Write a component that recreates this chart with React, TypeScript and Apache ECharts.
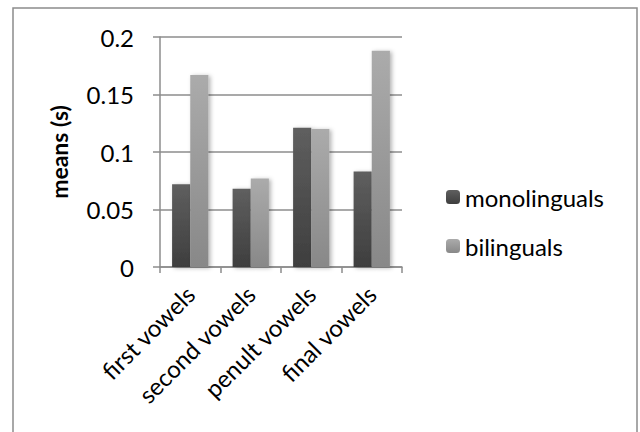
import React, { useEffect, useRef } from "react";
import * as echarts from "echarts";

const categories = ["first vowels", "second vowels", "penult vowels", "final vowels"];
const monolinguals = [0.072, 0.068, 0.121, 0.083];
const bilinguals = [0.167, 0.077, 0.120, 0.188];
const yTicks = [0, 0.05, 0.1, 0.15, 0.2];

const FONT = "Lato";

export default function App() {
  const ref = useRef<HTMLDivElement>(null);
  useEffect(() => {
    document.body.style.margin = "0";
    const chart = echarts.init(ref.current!, null, { renderer: "svg" });
    const grad = (top: string, bottom: string) =>
      new echarts.graphic.LinearGradient(0, 0, 0, 1, [
        { offset: 0, color: top },
        { offset: 1, color: bottom },
      ]);
    chart.setOption({
      animation: false,
      backgroundColor: "#ffffff",
      textStyle: { fontFamily: FONT },
      graphic: [
        {
          type: "rect",
          shape: { x: 13, y: 8, width: 624, height: 440 },
          style: { fill: "none", stroke: "#8c8c8c", lineWidth: 1.5 },
          z: -10,
        },
      ],
      grid: { left: 160, right: 238, top: 37, bottom: 165, containLabel: false },
      legend: {
        orient: "vertical",
        left: 441,
        top: 180,
        itemWidth: 14,
        itemHeight: 14,
        itemGap: 25,
        textStyle: { fontFamily: FONT, fontSize: 24, color: "#000" },
        data: ["monolinguals", "bilinguals"],
      },
      xAxis: {
        type: "category",
        data: categories,
        axisLine: { lineStyle: { color: "#8c8c8c", width: 1.5 } },
        axisTick: { show: true, length: 6, alignWithLabel: false, lineStyle: { color: "#8c8c8c", width: 1.5 } },
        axisLabel: {
          rotate: 45,
          interval: 0,
          fontFamily: FONT,
          fontSize: 24,
          color: "#000",
          margin: 23,
        },
      },
      yAxis: {
        type: "value",
        min: 0,
        max: 0.2,
        interval: 0.05,
        name: "means (s)",
        nameLocation: "middle",
        nameGap: 90,
        nameRotate: 90,
        nameTextStyle: { fontFamily: FONT, fontSize: 23, fontWeight: "bold", color: "#000" },
        axisLine: { show: true, lineStyle: { color: "#8c8c8c", width: 1.5 } },
        axisTick: { show: true, length: 7, lineStyle: { color: "#8c8c8c", width: 1.5 } },
        splitLine: { lineStyle: { color: "#8c8c8c", width: 1.5 } },
        axisLabel: {
          fontFamily: FONT,
          fontSize: 24,
          color: "#000",
          margin: 26,
          formatter: (v: number) => {
            const t = yTicks.find((x) => Math.abs(x - v) < 1e-9);
            return String(t ?? v);
          },
        },
      },
      series: [
        {
          name: "monolinguals",
          type: "bar",
          data: monolinguals,
          barGap: "0%",
          barCategoryGap: "40%",
          itemStyle: {
            color: grad("#5f5f5f", "#3e3e3e"),
            shadowBlur: 4,
            shadowOffsetX: 2,
            shadowOffsetY: 1,
            shadowColor: "rgba(0,0,0,0.3)",
          },
        },
        {
          name: "bilinguals",
          type: "bar",
          data: bilinguals,
          barGap: "0%",
          barCategoryGap: "40%",
          itemStyle: {
            color: grad("#ababab", "#888888"),
            shadowBlur: 4,
            shadowOffsetX: 2,
            shadowOffsetY: 1,
            shadowColor: "rgba(0,0,0,0.3)",
          },
        },
      ],
    });
    return () => chart.dispose();
  }, []);
  return <div ref={ref} style={{ width: 640, height: 432 }} />;
}
